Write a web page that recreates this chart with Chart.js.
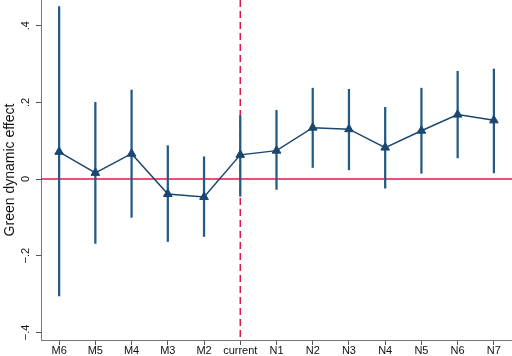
<!DOCTYPE html>
<html>
<head>
<meta charset="utf-8">
<script src="https://cdn.jsdelivr.net/npm/chart.js@4"></script>
<style>
  html, body { margin: 0; padding: 0; background: #fff; }
  #wrap { width: 512px; height: 356px; }
</style>
</head>
<body>
<div id="wrap"><canvas id="chart" width="512" height="356"></canvas></div>
<script>
// periods relative to the policy year
const periods = ['M6', 'M5', 'M4', 'M3', 'M2', 'current', 'N1', 'N2', 'N3', 'N4', 'N5', 'N6', 'N7'];
// point estimates
const estimates = [0.071, 0.016, 0.066, -0.039, -0.047, 0.063, 0.074, 0.134, 0.130, 0.082, 0.126, 0.168, 0.153];
// confidence interval bounds
const ciLow = [-0.305, -0.168, -0.100, -0.163, -0.150, -0.045, -0.027, 0.030, 0.024, -0.024, 0.015, 0.055, 0.016];
const ciHigh = [0.450, 0.200, 0.232, 0.087, 0.058, 0.165, 0.179, 0.237, 0.234, 0.187, 0.237, 0.281, 0.287];
const yTicks = [-0.4, -0.2, 0, 0.2, 0.4];

const navy = '#1a476f';
const red = '#e0184a';

// Reference lines: zero line and dashed line at "current"
const refLines = {
    id: 'refLines',
    beforeDatasetsDraw(chart) {
        const ctx = chart.ctx;
        const area = chart.chartArea;
        const x = chart.scales.x.getPixelForValue(periods.indexOf('current'));
        const y0 = chart.scales.y.getPixelForValue(0);
        ctx.save();
        ctx.strokeStyle = red;
        ctx.lineWidth = 1.3;
        ctx.beginPath();
        ctx.moveTo(area.left, y0);
        ctx.lineTo(area.right, y0);
        ctx.stroke();
        ctx.setLineDash([7, 4]);
        ctx.lineWidth = 1.5;
        ctx.beginPath();
        ctx.moveTo(x, area.top);
        ctx.lineTo(x, area.bottom);
        ctx.stroke();
        ctx.restore();
    }
};

// let the plot region run to the canvas edges like the original
function noEdgePadding(scale) {
    scale.paddingTop = 0;
    scale.paddingBottom = 0;
    scale.paddingRight = 0;
}

const ctx = document.getElementById('chart').getContext('2d');
const chart = new Chart(ctx, {
    type: 'bar',
    data: {
        labels: periods,
        datasets: [{
            type: 'line',
            label: 'Estimate',
            data: estimates,
            borderColor: navy,
            backgroundColor: navy,
            borderWidth: 1.5,
            pointStyle: 'triangle',
            pointRadius: 5,
            pointBorderWidth: 1,
            clip: false,
            order: 0
        }, {
            type: 'bar',
            label: 'CI',
            data: ciLow.map((lo, i) => [lo, ciHigh[i]]),
            backgroundColor: '#245a84',
            barThickness: 1.6,
            order: 1
        }]
    },
    options: {
        responsive: false,
        animation: false,
        layout: { padding: 0, autoPadding: false },
        plugins: {
            legend: { display: false },
            tooltip: { enabled: false }
        },
        scales: {
            x: {
                offset: true,
                afterFit: noEdgePadding,
                grid: { display: true, drawOnChartArea: false, drawTicks: true, tickLength: 5, color: '#555', offset: false },
                border: { display: true, color: '#777', width: 1 },
                ticks: { color: '#111', font: { family: 'Liberation Sans', size: 11, lineHeight: 1 }, padding: 0, maxRotation: 0, autoSkip: false }
            },
            y: {
                min: -0.42,
                max: 0.467,
                afterFit: noEdgePadding,
                afterBuildTicks(scale) {
                    scale.ticks = yTicks.map(v => ({ value: v }));
                },
                grid: { display: true, drawOnChartArea: false, drawTicks: true, tickLength: 5, color: '#555' },
                border: { display: true, color: '#777', width: 1 },
                ticks: {
                    color: '#111',
                    font: { family: 'Liberation Sans', size: 11 },
                    minRotation: 90,
                    maxRotation: 90,
                    crossAlign: 'center',
                    padding: 2,
                    callback(v) {
                        if (Math.abs(v) < 1e-9) return '0';
                        const s = Math.abs(v).toFixed(1).replace(/^0/, '');
                        return (v < 0 ? '\u2212' : '') + s;
                    }
                },
                title: {
                    display: true,
                    text: 'Green dynamic effect',
                    color: '#111',
                    font: { family: 'Liberation Sans', size: 14 },
                    padding: { top: 2, bottom: 0 }
                }
            }
        }
    },
    plugins: [refLines]
});
</script>
</body>
</html>
